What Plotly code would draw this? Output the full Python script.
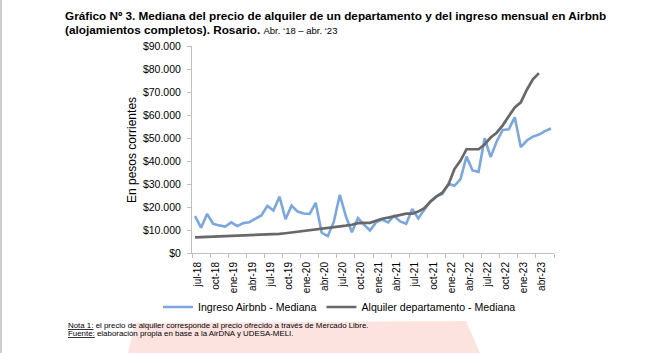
import plotly.graph_objects as go

# ---- data (monthly, jul-18 .. jun-23) ----
meses = [
    "jul-18", "ago-18", "sep-18", "oct-18", "nov-18", "dic-18",
    "ene-19", "feb-19", "mar-19", "abr-19", "may-19", "jun-19",
    "jul-19", "ago-19", "sep-19", "oct-19", "nov-19", "dic-19",
    "ene-20", "feb-20", "mar-20", "abr-20", "may-20", "jun-20",
    "jul-20", "ago-20", "sep-20", "oct-20", "nov-20", "dic-20",
    "ene-21", "feb-21", "mar-21", "abr-21", "may-21", "jun-21",
    "jul-21", "ago-21", "sep-21", "oct-21", "nov-21", "dic-21",
    "ene-22", "feb-22", "mar-22", "abr-22", "may-22", "jun-22",
    "jul-22", "ago-22", "sep-22", "oct-22", "nov-22", "dic-22",
    "ene-23", "feb-23", "mar-23", "abr-23", "may-23", "jun-23",
]

ingreso_airbnb = [
    16000, 11000, 17000, 12700, 12000, 11500,
    13300, 11700, 13000, 13400, 14900, 16300,
    20500, 18500, 24500, 14700, 20600, 18000,
    17200, 17000, 21800, 8800, 7300, 13500,
    25300, 16000, 9000, 15200, 12300, 9800,
    13300, 14500, 13300, 16200, 13700, 12700,
    19100, 15000, 18800, 22400, 24600, 25700,
    30100, 29200, 32100, 41900, 35900, 35300,
    49900, 41700, 48500, 53500, 53800, 59000,
    46000, 48900, 50600, 51500, 53000, 54100,
]

alquiler_depto = [
    6800, 6900, 7000, 7200, 7300, 7400,
    7500, 7600, 7800, 7900, 7900, 7900,
    7900, 8000, 8300, 8600, 8900, 9200,
    9600, 10100, 10400, 10600, 10800, 11200,
    11500, 11900, 12300, 13000, 13100, 13100,
    14000, 14900, 15400, 15900, 16600, 17100,
    17100, 18000, 19500, 22300, 24500, 26300,
    29700, 36500, 40200, 45100, 45100, 45100,
    47200, 50200, 52300, 55500, 59500, 63300,
    65500, 71000, 75500, 78200,
]

tick_meses = ["jul-18", "oct-18", "ene-19", "abr-19", "jul-19", "oct-19",
              "ene-20", "abr-20", "jul-20", "oct-20", "ene-21", "abr-21",
              "jul-21", "oct-21", "ene-22", "abr-22", "jul-22", "oct-22",
              "ene-23", "abr-23"]

y_ticks = [0, 10000, 20000, 30000, 40000, 50000, 60000, 70000, 80000, 90000]
y_ticktext = ["$0", "$10.000", "$20.000", "$30.000", "$40.000", "$50.000",
              "$60.000", "$70.000", "$80.000", "$90.000"]

FONT = "Liberation Sans, Arial, sans-serif"

x_idx = list(range(len(meses)))

fig = go.Figure()
fig.add_trace(go.Scatter(
    x=x_idx, y=ingreso_airbnb, mode="lines", name="Ingreso Airbnb - Mediana",
    line=dict(color="#7ba7de", width=2.6), text=meses,
    hovertemplate="%{text}: $%{y:,.0f}<extra></extra>"))
fig.add_trace(go.Scatter(
    x=x_idx[:len(alquiler_depto)], y=alquiler_depto, mode="lines",
    name="Alquiler departamento - Mediana",
    line=dict(color="#686868", width=2.7), text=meses[:len(alquiler_depto)],
    hovertemplate="%{text}: $%{y:,.0f}<extra></extra>"))

# tick marks on group boundaries, labels shifted to the first month of each quarter
tick_pos = [i * 3 - 0.5 for i in range(len(tick_meses) + 1)]
tick_txt = tick_meses + [""]

L, R, T, B = 192, 96, 46, 100
W, H = 650, 353
pw, ph = W - L - R, H - T - B


def px(x):
    return (x - L) / pw


def py(y):
    return (H - B - y) / ph


fig.update_layout(
    width=W, height=H,
    margin=dict(l=L, r=R, t=T, b=B, pad=0),
    paper_bgcolor="white", plot_bgcolor="white",
    font=dict(family=FONT, color="#000000"),
    showlegend=True,
    legend=dict(orientation="h", x=px(158), y=py(307), xanchor="left",
                yanchor="middle", font=dict(size=10.6, family=FONT),
                bgcolor="rgba(0,0,0,0)", itemwidth=30, tracegroupgap=0),
    xaxis=dict(range=[-0.5, len(meses) - 0.5], tickmode="array",
               tickvals=tick_pos, ticktext=tick_txt, tickangle=-90,
               ticklabelshift=6,
               showgrid=False, zeroline=False, showline=True,
               linecolor="#bfbfbf", linewidth=1, ticks="outside",
               ticklen=4, tickcolor="#bfbfbf",
               tickfont=dict(size=10, family=FONT)),
    yaxis=dict(range=[0, 90000], tickmode="array", tickvals=y_ticks,
               ticktext=y_ticktext, showgrid=False, zeroline=False,
               showline=True, linecolor="#bfbfbf", linewidth=1,
               ticks="outside", ticklen=4, tickcolor="#bfbfbf",
               ticklabelstandoff=4,
               tickfont=dict(size=10.5, family=FONT)),
)

annotations = [
    dict(text="<b>Gráfico Nº 3. Mediana del precio de alquiler de un departamento y del ingreso mensual en Airbnb</b>",
         x=px(63), y=py(15), xanchor="left", yanchor="middle",
         font=dict(size=11.75, family=FONT)),
    dict(text="<b>(alojamientos completos). Rosario.</b> <span style='font-size:9.5px'>Abr. ‘18 – abr. ‘23</span>",
         x=px(63), y=py(29), xanchor="left", yanchor="middle",
         font=dict(size=11.75, family=FONT)),
    dict(text="En pesos corrientes", textangle=-90, x=px(132), y=py(150),
         xanchor="center", yanchor="middle", font=dict(size=12, family=FONT)),
    dict(text="<u>Nota 1:</u> el precio de alquiler corresponde al precio ofrecido a través de Mercado Libre.",
         x=px(66), y=py(325), xanchor="left", yanchor="middle",
         font=dict(size=7.9, family=FONT)),
    dict(text="<u>Fuente:</u> elaboración propia en base a la AirDNA y UDESA-MELI.",
         x=px(66), y=py(333.5), xanchor="left", yanchor="middle",
         font=dict(size=7.9, family=FONT)),
]
for a in annotations:
    a.update(xref="paper", yref="paper", showarrow=False)
fig.update_layout(annotations=annotations)

# pale pink area behind the notes and thin frame line on the left edge
fig.update_layout(shapes=[
    dict(type="path", xref="paper", yref="paper", layer="below",
         path=f"M {px(135)},{py(323)} L {px(466)},{py(321)} L {px(480)},{py(353)} L {px(128)},{py(353)} Z",
         fillcolor="#fde3e0", line=dict(width=0)),
    dict(type="line", xref="paper", yref="paper", layer="above",
         x0=px(1), x1=px(1), y0=py(0), y1=py(353),
         line=dict(color="#9a9a9a", width=1)),
])

fig.write_html("out.html")
